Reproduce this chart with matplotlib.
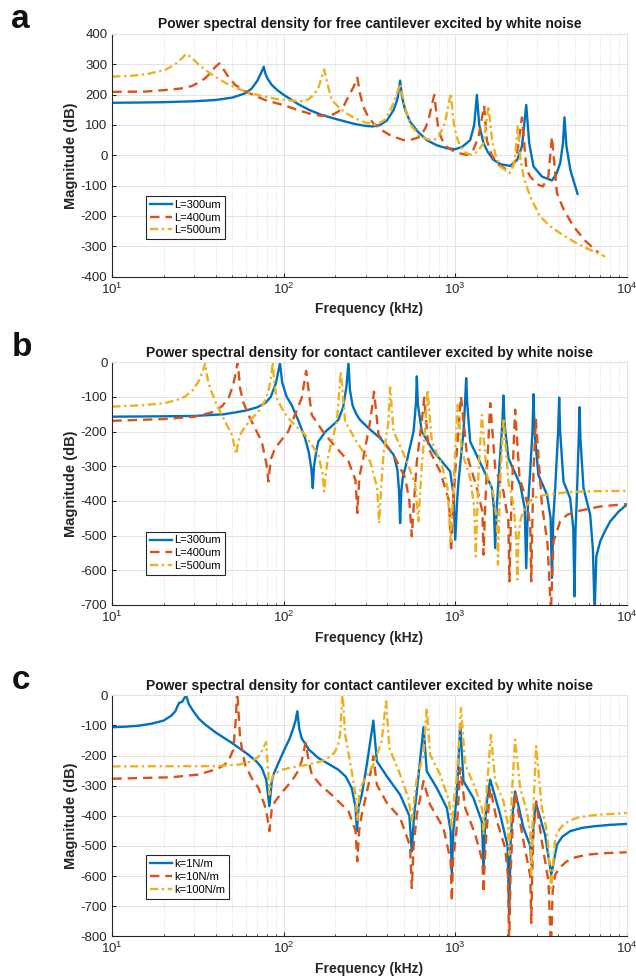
import matplotlib
matplotlib.use('Agg')
import matplotlib.pyplot as plt
from matplotlib.ticker import LogLocator, NullFormatter, FixedLocator

plt.rcParams['font.family'] = ['Liberation Sans', 'DejaVu Sans']
plt.rcParams['axes.unicode_minus'] = False

BLUE = '#0072BD'
RED = '#D95319'
YELLOW = '#EDB120'

# ---- panel a: free cantilever, L = 300 / 400 / 500 um ----
a_f_300 = [10, 15, 20, 30, 39.7, 50, 59.4, 65, 70, 74.4, 76.4, 78, 80, 85, 92, 100, 121, 140,
           166, 200, 229, 260, 298, 330, 365, 400, 437, 460, 477, 490, 510, 546, 600, 682,
           780, 893, 1000, 1100, 1222, 1290, 1337, 1380, 1462, 1550, 1671, 1850, 2089, 2300,
           2450, 2594, 2700, 2860, 3200, 3664, 3900, 4093, 4250, 4335, 4450, 4700, 5164]
a_db_300 = [173, 174, 175, 178, 182, 190, 204, 220, 245, 276, 292, 270, 255, 232, 214, 199, 169, 150,
            133, 120, 111, 103, 97, 95, 100, 115, 149, 185, 246, 190, 150, 110, 80, 50,
            33, 23, 20, 28, 50, 100, 199, 100, 40, 10, -15, -30, -35, -15,
            30, 166, 40, -37, -70, -83, -60, -26, 40, 125, 30, -50, -127]

a_f_400 = [10, 15.6, 20.3, 25, 29, 32, 34.8, 37.5, 39.7, 42.1, 45.4, 48, 52, 60, 77.8, 100, 121,
           140, 166, 190, 208, 225, 238, 255, 268.5, 278, 291, 310, 333, 380, 420, 499, 560,
           624, 670, 697, 754, 798, 840, 893, 1000, 1170, 1280, 1367, 1474, 1528, 1620, 1750,
           2000, 2150, 2264, 2449, 2600, 2735, 3000, 3245, 3490, 3664, 3919, 4300, 4898, 5800, 6855]
a_db_400 = [209, 210, 215, 220, 228, 240, 254, 272, 290, 303, 276, 255, 232, 210, 182, 165, 149,
            138, 130, 132, 144, 165, 193, 225, 256, 204, 160, 128, 105, 80, 65, 50, 52,
            61, 90, 116, 199, 83, 50, 28, 10, 1, 20, 61, 163, 50, 5, -27,
            -48, -35, -15, 125, -45, -70, -95, -103, -70, 61, -125, -180, -235, -285, -321]

a_f_500 = [10, 13, 16, 20.3, 23, 25.5, 26.9, 29, 32, 35.5, 39.7, 48, 59.4, 75, 90, 111, 127, 140,
           152, 160, 171.8, 180, 190.5, 210, 229, 260, 298, 349, 390, 420, 455, 477, 495, 520,
           546, 624, 700, 747, 800, 870, 942, 980, 1020, 1069, 1150, 1250, 1350, 1462, 1563,
           1637, 1720, 1828, 2071, 2180, 2235, 2317, 2400, 2500, 2750, 3126, 3600, 4093, 5000,
           5860, 6700, 7500]
a_db_500 = [259, 262, 268, 281, 298, 320, 334, 322, 298, 278, 259, 232, 210, 195, 186, 180, 178, 185,
            204, 226, 283, 235, 182, 158, 140, 122, 108, 100, 118, 150, 200, 235, 190, 140,
            102, 61, 52, 50, 60, 106, 204, 106, 60, 28, 8, 1, 12, 40, 163,
            50, 0, -37, -59, -35, -4, 100, -10, -70, -140, -202, -235, -257, -287,
            -307, -322, -334]

# ---- panel b: contact cantilever, L = 300 / 400 / 500 um ----
b_f_300 = [10, 20, 30, 45, 59.4, 70, 77.8, 84, 90, 95, 98, 104, 111, 122, 133, 140, 145, 147.6,
           150, 155, 159, 175, 195, 208, 222, 232, 238.5, 243, 252, 265, 278, 320, 365, 437,
           460, 470, 477, 485, 495, 511, 571, 590, 597, 605, 638, 747, 934, 975, 1000, 1025,
           1045, 1117, 1140, 1158, 1175, 1222, 1462, 1637, 1680, 1710, 1745, 1828, 1880, 1911,
           1940, 2043, 2393, 2540, 2594, 2650, 2735, 2820, 2860, 2900, 3055, 3426, 3600, 3664,
           3730, 3828, 3980, 4037, 4090, 4279, 4677, 4880, 4955, 5030, 5117, 5250, 5309, 5370,
           5598, 6124, 6350, 6498, 6650, 7000, 7500, 8010, 9000, 10000]
b_db_300 = [-157, -156, -155, -150, -140, -130, -118, -100, -60, -3, -60, -100, -123, -170, -219, -260, -310, -363,
            -300, -255, -229, -200, -180, -166, -130, -70, 0, -80, -125, -150, -166, -195, -219, -267,
            -310, -370, -464, -370, -330, -305, -200, -120, -41, -120, -200, -257, -315, -380, -512, -400,
            -344, -200, -120, -46, -120, -229, -310, -363, -420, -536, -420, -267, -180, -96,
            -180, -277, -353, -420, -594, -420, -315, -200, -92, -200, -325, -382, -450, -622,
            -450, -363, -200, -102, -200, -344, -392, -480, -675, -480, -392, -220, -130, -220,
            -363, -440, -540, -720, -560, -517, -485, -459, -430, -411]

b_f_400 = [10, 20, 30.4, 39.7, 44, 48, 51, 53.9, 55.6, 58, 62, 65, 74.4, 79, 81.3, 84, 89, 106,
           127, 135, 145.6, 174, 238.5, 262, 268.5, 276, 290, 319, 336, 357, 437, 511, 540, 558,
           575, 597, 638, 659, 698, 816, 920, 946, 970, 1000, 1080, 1170, 1337, 1440, 1462,
           1490, 1528, 1600, 1710, 1911, 2040, 2071, 2110, 2168, 2235, 2371, 2618, 2740, 2775,
           2810, 2860, 2952, 3200, 3450, 3614, 3743, 4093, 4500, 5117, 7000, 10000]
b_db_400 = [-169, -164, -157, -142, -125, -100, -60, 0, -75, -115, -150, -171, -229, -290, -344, -280, -248, -200,
            -104, -25, -152, -209, -286, -340, -435, -330, -280, -171, -85, -209, -267, -334, -400, -502,
            -400, -286, -171, -102, -248, -315, -400, -546, -420, -315, -99, -267, -363, -430, -555,
            -430, -315, -118, -305, -373, -460, -632, -460, -296, -137, -334, -401, -480, -632,
            -480, -315, -166, -411, -520, -720, -517, -459, -440, -430, -416, -409]

b_f_500 = [10, 15, 20.3, 24, 26.6, 29.5, 31.8, 33.5, 34.8, 36, 37.2, 40, 43.5, 47, 49.8, 51.5,
           52.7, 54.5, 56.9, 63, 71.2, 77, 81.3, 84, 86.3, 88, 91, 98, 106, 118, 133, 159, 168,
           171.8, 176, 182, 204, 215, 228, 272, 319, 350, 360, 370, 381, 408, 417, 437, 522, 584,
           610, 638, 667, 689, 730, 835, 902, 942, 986, 1031, 1093, 1222, 1290, 1318, 1345, 1367,
           1430, 1528, 1671, 1750, 1775, 1800, 1828, 1911, 2043, 2188, 2260, 2302, 2340, 2393,
           2450, 2560, 2700, 2860, 3100, 3426, 4478, 6000, 10000]
b_db_500 = [-128, -124, -118, -108, -99, -80, -56, -30, -3, -50, -75, -115, -152, -185, -209, -240,
            -265, -225, -200, -170, -142, -115, -85, -50, 0, -60, -104, -135, -161, -185, -209, -267, -320,
            -373, -320, -267, -171, -27, -171, -238, -286, -360, -464, -360, -267, -171, -73, -200, -286, -353,
            -459, -296, -190, -80, -229, -296, -363, -517, -315, -123, -257, -334, -420, -560, -420, -315,
            -152, -325, -382, -460, -584, -460, -344, -161, -344, -411, -500, -627, -500, -459,
            -440, -420, -403, -392, -386, -382, -375, -372, -371]

# ---- panel c: contact cantilever, k = 1 / 10 / 100 N/m ----
c_f_1 = [10, 12, 14.2, 17, 19.9, 22, 23.3, 24.5, 25.5, 26.9, 28, 29.7, 32, 34.8, 40, 49.8, 62.1,
         70, 74.4, 79, 82.4, 85, 87, 93, 101.8, 108, 113.8, 117, 120, 123, 127, 140, 159, 185,
         208, 230, 249, 262, 267, 273, 285, 305, 333, 349, 399, 477, 540, 558, 575, 597, 653,
         682, 781, 893, 940, 955, 975, 1021, 1069, 1117, 1277, 1430, 1462, 1495, 1528, 1600,
         1828, 2020, 2063, 2100, 2137, 2235, 2500, 2740, 2775, 2810, 2924, 2963, 3340, 3630,
         3919, 4200, 4677, 5500, 6412, 8000, 10000]
c_db_1 = [-106, -104, -101, -94, -84, -68, -53, -25, -22, 0, -30, -53, -78, -97, -123, -158, -197,
          -222, -241, -280, -368, -290, -263, -225, -175, -145, -108, -85, -53, -110, -142, -180, -208, -230,
          -247, -270, -308, -370, -451, -370, -330, -230, -84, -219, -269, -330, -400, -518, -400, -319, -106,
          -252, -308, -374, -450, -595, -450, -330, -95, -285, -341, -420, -579, -420, -352, -280,
          -396, -500, -728, -500, -418, -319, -440, -500, -562, -480, -374, -360, -463, -595,
          -496, -470, -451, -440, -435, -430, -427]

c_f_10 = [10, 22.2, 31.8, 39.7, 44, 47.5, 50.8, 52.5, 53.5, 54.5, 55.6, 59.4, 65, 71.2, 79, 82.4,
          85, 89, 100, 111, 120, 127, 134, 140, 145.6, 165, 190, 215, 238.5, 262, 268.5, 275, 285,
          312, 333, 349, 399, 477, 545, 558, 572, 597, 653, 713, 853, 940, 955, 970, 1021, 1069,
          1143, 1309, 1440, 1462, 1485, 1528, 1600, 1750, 1955, 2030, 2063, 2100, 2168, 2235,
          2500, 2740, 2775, 2810, 2860, 2963, 3200, 3500, 3614, 3700, 3828, 4100, 4478, 5000,
          5860, 7500, 10000]
c_db_10 = [-277, -272, -263, -247, -235, -219, -180, -80, 20, -60, -142, -230, -275, -308, -380, -451,
           -380, -352, -315, -285, -255, -219, -158, -220, -263, -300, -330, -360, -385, -450, -551, -450, -396,
           -297, -202, -297, -357, -407, -500, -640, -500, -396, -285, -363, -440, -550, -684, -550, -440, -241,
           -374, -463, -550, -656, -550, -440, -308, -418, -507, -600, -830, -600, -418, -324,
           -485, -600, -756, -600, -451, -352, -485, -620, -850, -650, -595, -570, -551, -538,
           -529, -524, -521]

c_f_100 = [10, 40, 55, 65, 71, 74.4, 78.9, 81.3, 82.4, 84, 87, 97.3, 110, 133, 155, 174, 190,
           199.5, 207, 213, 220, 228, 249, 262, 268.5, 275, 285, 333, 372, 395, 413, 477, 533, 558,
           597, 653, 682, 713, 816, 920, 955, 990, 1021, 1080, 1143, 1309, 1440, 1462, 1495, 1528,
           1615, 1710, 1911, 2030, 2063, 2100, 2137, 2235, 2393, 2618, 2740, 2775, 2810, 2860,
           2963, 3200, 3426, 3630, 3828, 4050, 4279, 4700, 5117, 6000, 7000, 10000]
c_db_100 = [-236, -235, -230, -219, -205, -186, -155, -263, -330, -290, -263, -247, -240, -232, -224, -214, -200,
            -186, -165, -131, 10, -131, -252, -330, -418, -330, -297, -230, -153, -20, -175, -263, -341, -418,
            -274, -197, -42, -197, -263, -350, -440, -330, -274, -42, -230, -308, -380, -463, -380, -308,
            -131, -285, -352, -430, -529, -430, -330, -147, -308, -385, -460, -595, -460, -363,
            -169, -374, -451, -640, -474, -445, -429, -415, -407, -400, -396, -391]

L_labels = ['L=300um', 'L=400um', 'L=500um']
k_labels = ['k=1N/m', 'k=10N/m', 'k=100N/m']

panels = [
    dict(letter='a', title='Power spectral density for free cantilever excited by white noise',
         curves=[(a_f_300, a_db_300), (a_f_400, a_db_400), (a_f_500, a_db_500)],
         labels=L_labels, ylim=(-400, 400), yticks=range(-400, 401, 100),
         rect=[0.1766, 0.7177, 0.8088, 0.2477], leg=(0.065, 0.154)),
    dict(letter='b', title='Power spectral density for contact cantilever excited by white noise',
         curves=[(b_f_300, b_db_300), (b_f_400, b_db_400), (b_f_500, b_db_500)],
         labels=L_labels, ylim=(-700, 0), yticks=range(-700, 1, 100),
         rect=[0.1766, 0.3827, 0.8088, 0.2477], leg=(0.065, 0.124)),
    dict(letter='c', title='Power spectral density for contact cantilever excited by white noise',
         curves=[(c_f_1, c_db_1), (c_f_10, c_db_10), (c_f_100, c_db_100)],
         labels=k_labels, ylim=(-800, 0), yticks=range(-800, 1, 100),
         rect=[0.1766, 0.0446, 0.8088, 0.2459], leg=(0.065, 0.156)),
]

styles = [dict(color=BLUE, ls='-'),
          dict(color=RED, ls=(0, (4, 2.5))),
          dict(color=YELLOW, ls=(0, (3.5, 1.5, 1, 1.5)))]

fig = plt.figure(figsize=(6.36, 9.8), dpi=100)

for p in panels:
    ax = fig.add_axes(p['rect'])
    for (f, db), st, lab in zip(p['curves'], styles, p['labels']):
        ax.plot(f, db, lw=1.7, label=lab, **st)
    ax.set_xscale('log')
    ax.set_xlim(10, 1e4)
    ax.set_ylim(*p['ylim'])
    ax.yaxis.set_major_locator(FixedLocator(list(p['yticks'])))
    ax.xaxis.set_major_locator(LogLocator(base=10))
    ax.xaxis.set_minor_locator(LogLocator(base=10, subs=range(2, 10)))
    ax.xaxis.set_minor_formatter(NullFormatter())
    ax.grid(True, which='major', color='#e3e3e3', lw=0.7)
    ax.grid(True, which='minor', axis='x', color='#d8d8d8', lw=0.6, ls=':')
    ax.set_axisbelow(True)
    for s in ['top', 'right']:
        ax.spines[s].set_color('#e3e3e3')
    for s in ['left', 'bottom']:
        ax.spines[s].set_color('#262626')
        ax.spines[s].set_linewidth(0.8)
    ax.tick_params(which='both', direction='in', labelsize=9.5, colors='#262626',
                   top=False, right=False)
    ax.tick_params(which='major', length=3)
    ax.tick_params(which='minor', length=1.8)
    ax.set_title(p['title'], fontsize=10, fontweight='bold', pad=4, color='#1a1a1a')
    ax.set_ylabel('Magnitude (dB)', fontsize=10.5, fontweight='bold', color='#262626')
    ax.yaxis.set_label_coords(-0.066, 0.5)
    ax.set_xlabel('Frequency (kHz)', fontsize=10, fontweight='bold', color='#262626')
    leg = ax.legend(loc='lower left', bbox_to_anchor=p['leg'], fontsize=8,
                    handlelength=2.0, handletextpad=0.2, borderpad=0.35,
                    labelspacing=0.25, fancybox=False, framealpha=1,
                    edgecolor='#262626', borderaxespad=0)
    leg.get_frame().set_linewidth(0.8)
    top = p['rect'][1] + p['rect'][3]
    fig.text(0.018, top + 0.006, p['letter'], fontsize=24, fontweight='bold',
             va='baseline', ha='left', color='#111111')

fig.savefig('out.png', dpi=100)
